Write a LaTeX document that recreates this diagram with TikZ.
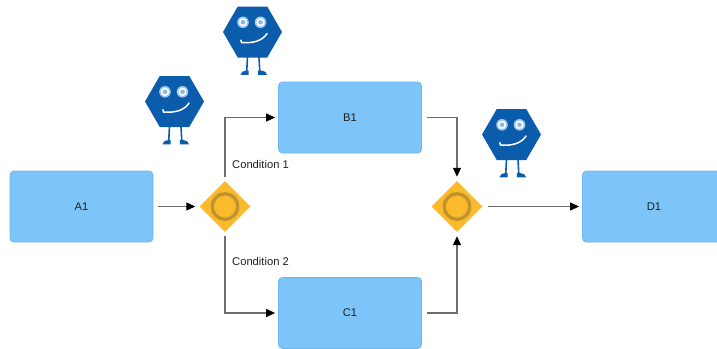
\documentclass[tikz,border=0pt]{standalone}
\usepackage{fontspec}
\setmainfont{Liberation Sans}
\usetikzlibrary{arrows.meta,shapes.geometric}

\definecolor{boxfill}{HTML}{7DC4F8}
\definecolor{boxline}{HTML}{6CB6EE}
\definecolor{gatefill}{HTML}{FBBA2B}
\definecolor{gatering}{HTML}{BF9232}
\definecolor{flowline}{HTML}{6E6E6E}
\definecolor{botblue}{HTML}{0C5CAC}
\definecolor{boteye}{HTML}{9EC8EF}

\tikzset{
  labelfont/.style={font=\fontsize{11.2}{13}\selectfont, text=black!88},
  task/.style={draw=boxline, fill=boxfill, rounded corners=4pt, line width=0.8pt,
    minimum width=143pt, minimum height=71pt, inner sep=0pt, labelfont},
  gateway/.style={diamond, fill=gatefill, minimum width=51pt, minimum height=51pt,
    inner sep=0pt,
    path picture={\draw[gatering, line width=3.3pt]
      (path picture bounding box.center) circle (12.8pt);}},
  flow/.style={draw=flowline, line width=1.2pt,
    -{Triangle[length=9pt,width=8pt,color=black]}},
  cond/.style={anchor=west, inner sep=0pt, labelfont},
  robot/.pic={
    % hexagonal body
    \fill[botblue] (-29.5,0) -- (-14.75,-25.5) -- (14.75,-25.5) -- (29.5,0)
      -- (14.75,25.5) -- (-14.75,25.5) -- cycle;
    % eyes
    \foreach \ex in {-9.5,8}{
      \fill[boteye] (\ex,-9.7) circle (5.8pt);
      \fill[white] (\ex,-9.7) circle (4.2pt);
      \fill[boteye!85!botblue] (\ex,-9.7) circle (2.3pt);
    }
    % smile
    \draw[white, line width=1.5pt, line cap=round]
      (-11.6,8.2) -- (-11,10.5) .. controls (0,11.5) and (10,9) .. (14.5,1.5);
    % legs
    \draw[botblue, line width=1.6pt] (-5,25) -- (-5.8,39.5);
    \draw[botblue, line width=1.6pt] (6.5,25) -- (7.3,39.5);
    % feet
    \fill[botblue] (-4,42.8) -- (-12,42.8) .. controls (-12,39.8) and (-9,39) .. (-6.5,38.6)
      -- (-4,38.6) -- cycle;
    \fill[botblue] (5.3,42.8) -- (14.5,42.8) .. controls (14.5,39.8) and (11.5,39) .. (9,38.6)
      -- (5.3,38.6) -- cycle;
  }
}

\begin{document}
\begin{tikzpicture}[x=1pt,y=-1pt]
  \clip (0,0) rectangle (717,348);

  % tasks
  \node[task] (A1) at (81.5,206.5) {A1};
  \node[task] (B1) at (350,117.5) {B1};
  \node[task] (C1) at (350,313) {C1};
  \node[task] (D1) at (654,206.5) {D1};

  % gateways
  \node[gateway] (g1) at (225,206.5) {};
  \node[gateway] (g2) at (457,206.5) {};

  % sequence flows
  \draw[flow, shorten <=5pt, shorten >=4pt] (A1.east) -- (g1.west);
  \draw[flow, shorten <=4pt, shorten >=3pt] (g1.north) |- (B1.west);
  \draw[flow, shorten <=4pt, shorten >=3pt] (g1.south) |- (C1.west);
  \draw[flow, shorten <=5pt, shorten >=4pt] (B1.east) -| (g2.north);
  \draw[flow, shorten <=5pt, shorten >=4pt] (C1.east) -| (g2.south);
  \draw[flow, shorten <=5pt, shorten >=3pt] (g2.east) -- (D1.west);

  % conditions
  \node[cond] (c1) at (232,164) {Condition 1};
  \node[cond] (c2) at (232,261) {Condition 2};

  % robots
  \pic (bot1) at (174.5,101.5) {robot};
  \pic (bot2) at (252.5,32) {robot};
  \pic (bot3) at (511.5,134.5) {robot};
\end{tikzpicture}
\end{document}
